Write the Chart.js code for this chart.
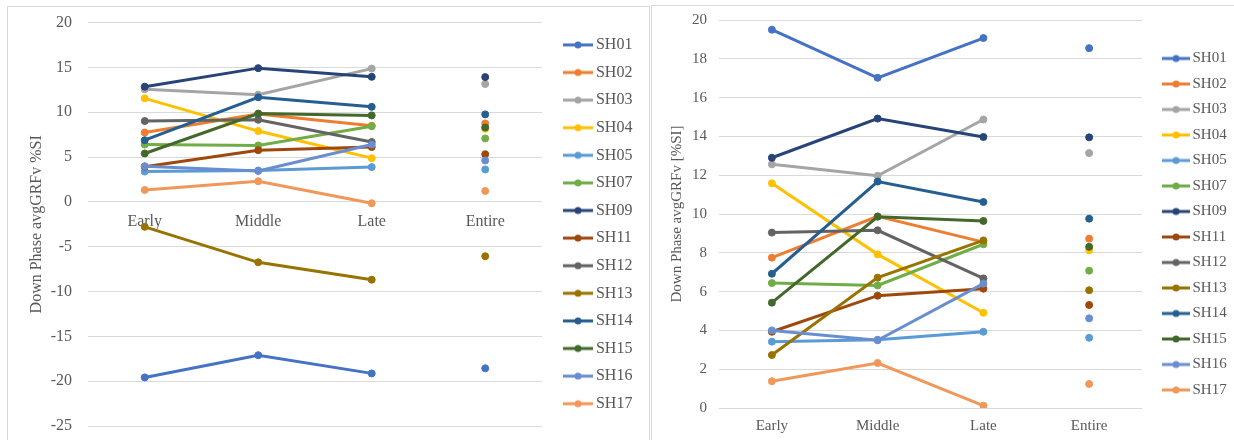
<!DOCTYPE html>
<html>
<head>
<meta charset="utf-8">
<script src="https://cdn.jsdelivr.net/npm/chart.js@4.4.0/dist/chart.umd.min.js"></script>
<style>
  html, body { margin: 0; padding: 0; background: #fff; overflow: hidden; }
  .box { position: absolute; border: 1px solid #d9d9d9; overflow: hidden; background: #fff; }
  #boxLeft { left: 7px; top: 6px; width: 641px; height: 440px; }
  #boxRight { left: 651px; top: 5px; width: 590px; height: 440px; }
  canvas { display: block; }
</style>
</head>
<body>
<div class="box" id="boxLeft"><canvas id="signedChart" width="641" height="433"></canvas></div>
<div class="box" id="boxRight"><canvas id="absChart" width="590" height="434"></canvas></div>
<script>
// categories and subjects
var phases = ['Early', 'Middle', 'Late', 'Entire'];
var subjects = ['SH01', 'SH02', 'SH03', 'SH04', 'SH05', 'SH07', 'SH09',
                'SH11', 'SH12', 'SH13', 'SH14', 'SH15', 'SH16', 'SH17'];
var colours = ['#4472C4', '#ED7D31', '#A5A5A5', '#FFC000', '#5B9BD5', '#70AD47', '#264478',
               '#9E480E', '#636363', '#997300', '#255E91', '#43682B', '#698ED0', '#F1975A'];

// left chart: signed %SI
var sh01 = [-19.58, -17.1, -19.13, -18.57];
var sh02 = [7.74, 9.8, 8.5, 8.75];
var sh03 = [12.56, 11.96, 14.87, 13.15];
var sh04 = [11.55, 7.9, 4.88, 8.15];
var sh05 = [3.38, 3.5, 3.88, 3.62];
var sh07 = [6.4, 6.3, 8.44, 7.08];
var sh09 = [12.85, 14.92, 13.95, 13.92];
var sh11 = [3.93, 5.77, 6.12, 5.32];
var sh12 = [9.02, 9.16, 6.68, null];
var sh13 = [-2.78, -6.74, -8.68, -6.06];
var sh14 = [6.88, 11.67, 10.6, 9.76];
var sh15 = [5.4, 9.85, 9.65, 8.3];
var sh16 = [3.98, 3.45, 6.4, 4.62];
var sh17 = [1.33, 2.3, -0.15, 1.22];

// right chart: |%SI|
var sh01Abs = [19.5, 17.02, 19.07, 18.55];
var sh02Abs = [7.75, 9.88, 8.55, 8.73];
var sh03Abs = [12.56, 11.97, 14.87, 13.14];
var sh04Abs = [11.58, 7.92, 4.91, 8.13];
var sh05Abs = [3.42, 3.52, 3.93, 3.62];
var sh07Abs = [6.44, 6.32, 8.44, 7.08];
var sh09Abs = [12.9, 14.92, 13.97, 13.95];
var sh11Abs = [3.93, 5.79, 6.15, 5.31];
var sh12Abs = [9.04, 9.16, 6.68, null];
var sh13Abs = [2.73, 6.72, 8.64, 6.07];
var sh14Abs = [6.92, 11.67, 10.62, 9.76];
var sh15Abs = [5.43, 9.86, 9.64, 8.31];
var sh16Abs = [4.0, 3.49, 6.41, 4.62];
var sh17Abs = [1.38, 2.32, 0.12, 1.24];

var leftTicks = [-25, -20, -15, -10, -5, 0, 5, 10, 15, 20];
var rightTicks = [0, 2, 4, 6, 8, 10, 12, 14, 16, 18, 20];

var signedSeries = [sh01, sh02, sh03, sh04, sh05, sh07, sh09, sh11, sh12, sh13, sh14, sh15, sh16, sh17];
var absSeries = [sh01Abs, sh02Abs, sh03Abs, sh04Abs, sh05Abs, sh07Abs, sh09Abs,
                 sh11Abs, sh12Abs, sh13Abs, sh14Abs, sh15Abs, sh16Abs, sh17Abs];

var textGrey = '#595959';
var gridGrey = '#d9d9d9';
var serif = "'Liberation Serif', 'Times New Roman', serif";

Chart.defaults.animation = false;
Chart.defaults.font.family = serif;
Chart.defaults.color = textGrey;

// little line-with-dot icon for the legend, like Excel's
function legendIcon(colour, w) {
    var c = document.createElement('canvas');
    c.width = w; c.height = 10;
    var g = c.getContext('2d');
    g.strokeStyle = colour;
    g.lineWidth = 3;
    g.beginPath(); g.moveTo(0, 5); g.lineTo(w, 5); g.stroke();
    g.fillStyle = colour;
    g.beginPath(); g.arc(w / 2, 5, 3.5, 0, Math.PI * 2); g.fill();
    return c;
}

function buildDatasets(series) {
    return subjects.map(function (name, i) {
        return {
            label: name,
            data: series[i],
            borderColor: colours[i],
            backgroundColor: colours[i],
            borderWidth: 3,
            pointRadius: 3.5,
            pointBorderWidth: 1,
            pointBackgroundColor: colours[i],
            pointBorderColor: colours[i],
            order: subjects.length - i,
            // Late -> Entire is not joined
            segment: {
                borderColor: function (ctx) { return ctx.p1DataIndex === 3 ? 'rgba(0,0,0,0)' : undefined; }
            }
        };
    });
}

function legendOptions(fontSize, pad, iconWidth, boxW) {
    var icons = colours.map(function (c) { return legendIcon(c, iconWidth); });
    return {
        position: 'right',
        labels: {
            usePointStyle: true,
            pointStyleWidth: boxW,
            padding: pad,
            color: textGrey,
            font: { size: fontSize, family: serif },
            sort: function (a, b) { return a.datasetIndex - b.datasetIndex; },
            generateLabels: function (chart) {
                var items = Chart.defaults.plugins.legend.labels.generateLabels(chart);
                items.forEach(function (it) { it.pointStyle = icons[it.datasetIndex]; });
                return items;
            }
        }
    };
}

// fixed y-axis width; don't let tick padding eat vertical room
function fixY(width) {
    return function (s) {
        s.width = width;
        s.paddingTop = 0;
        s.paddingBottom = 0;
    };
}

// empty axis used only to reserve room
function spacer(axis, pos, size) {
    return {
        type: 'linear', axis: axis, position: pos,
        grid: { display: false }, border: { display: false }, ticks: { display: false },
        afterFit: function (s) { if (axis === 'x') { s.height = size; } else { s.width = size; } }
    };
}

// left chart
new Chart(document.getElementById('signedChart'), {
    type: 'line',
    data: { labels: phases, datasets: buildDatasets(signedSeries) },
    options: {
        responsive: false,
        layout: { padding: { top: 15.6, bottom: 14, left: 0, right: 6.6 } },
        plugins: {
            legend: legendOptions(16, 11.6, 30, 20),
            tooltip: { enabled: false }
        },
        scales: {
            x: {
                position: { y: 0 },
                offset: true,
                grid: { display: false, drawTicks: false },
                border: { display: false },
                ticks: { padding: 10.5, font: { size: 16 }, color: textGrey }
            },
            y: {
                min: -25, max: 20,
                afterBuildTicks: function (s) { s.ticks = leftTicks.map(function (v) { return { value: v }; }); },
                afterFit: fixY(80),
                grid: { color: gridGrey, lineWidth: 1, drawTicks: false },
                border: { display: false },
                ticks: { padding: 16, font: { size: 16 }, color: textGrey },
                title: { display: true, text: 'Down Phase avgGRFv %SI', color: textGrey,
                         font: { size: 16 }, padding: { top: 19, bottom: 0 } }
            },
            gap: spacer('y', 'right', 14.4)
        }
    }
});

// right chart
new Chart(document.getElementById('absChart'), {
    type: 'line',
    data: { labels: phases, datasets: buildDatasets(absSeries) },
    options: {
        responsive: false,
        layout: { padding: { top: 14, bottom: 11.5, left: 0, right: 5.3 } },
        plugins: {
            legend: legendOptions(15, 10.5, 28, 18),
            tooltip: { enabled: false }
        },
        scales: {
            x: {
                position: { y: 0 },
                offset: true,
                grid: { display: false, drawTicks: false },
                border: { display: false },
                ticks: { padding: 9, font: { size: 15 }, color: textGrey }
            },
            y: {
                min: 0, max: 20,
                afterBuildTicks: function (s) { s.ticks = rightTicks.map(function (v) { return { value: v }; }); },
                afterFit: fixY(67),
                grid: { color: gridGrey, lineWidth: 1, drawTicks: false },
                border: { display: false },
                ticks: { padding: 12, font: { size: 15 }, color: textGrey },
                title: { display: true, text: 'Down Phase avgGRFv [%SI]', color: textGrey,
                         font: { size: 15 }, padding: { top: 16.5, bottom: 0 } }
            },
            gap: spacer('y', 'right', 14.5),
            gapBottom: spacer('x', 'bottom', 20.5)
        }
    }
});
</script>
</body>
</html>
